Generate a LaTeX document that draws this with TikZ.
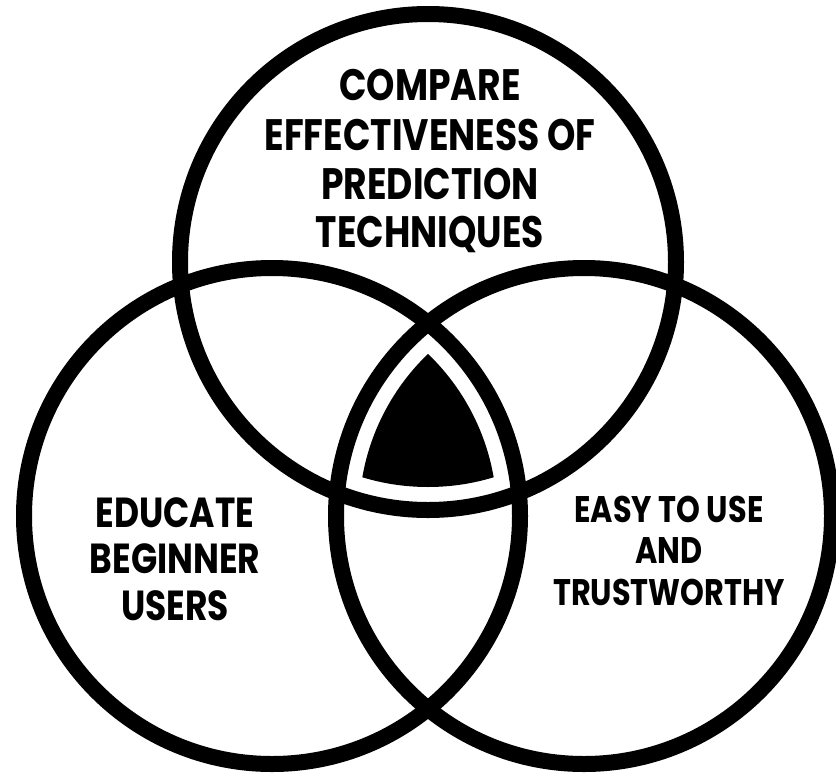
\documentclass[tikz,border=0pt]{standalone}
\usepackage{fontspec}
\newfontfamily\venn{Poppins}[FakeStretch=0.82]
\begin{document}
\begin{tikzpicture}[x=1pt,y=-1pt,
  ring/.style={draw=black,line width=16pt},
  toptxt/.style={anchor=base,inner sep=0pt,font=\venn\bfseries\fontsize{44}{49}\selectfont},
  lefttxt/.style={anchor=base,inner sep=0pt,font=\venn\bfseries\fontsize{42}{46}\selectfont},
  righttxt/.style={anchor=base,inner sep=0pt,font=\venn\bfseries\fontsize{37}{42}\selectfont}]
\useasboundingbox (0,0) rectangle (836,774);
\coordinate (T) at (428,262);
\coordinate (L) at (272,516);
\coordinate (R) at (584,516);
\begin{scope}
  \clip (T) circle (225);
  \clip (L) circle (225);
  \fill[black] (R) circle (225);
\end{scope}
\draw[ring] (T) circle (248);
\draw[ring] (L) circle (248);
\draw[ring] (R) circle (248);
\node[toptxt] (t1) at (430,100.5) {COMPARE};
\node[toptxt] (t2) at (430,150) {EFFECTIVENESS OF};
\node[toptxt] (t3) at (430,199) {PREDICTION};
\node[toptxt] (t4) at (430,247) {TECHNIQUES};
\node[lefttxt] (l1) at (175,527) {EDUCATE};
\node[lefttxt] (l2) at (175,573) {BEGINNER};
\node[lefttxt] (l3) at (175,620) {USERS};
\node[righttxt] (r1) at (669,522) {EASY TO USE};
\node[righttxt] (r2) at (669,563) {AND};
\node[righttxt] (r3) at (669,605) {TRUSTWORTHY};
\end{tikzpicture}
\end{document}
